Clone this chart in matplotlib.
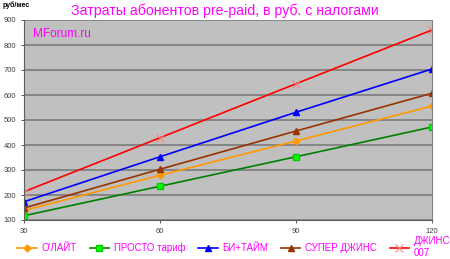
import matplotlib
matplotlib.use("Agg")
import matplotlib.pyplot as plt

minutes = [30, 60, 90, 120]
olait = [138, 279, 416, 556]
prosto = [117, 235, 353, 472]
bi_time = [173, 353, 531, 704]
super_jeans = [148, 303, 456, 607]
jeans007 = [213, 429, 645, 860]

names = ["О'ЛАЙТ", "ПРОСТО тариф", "БИ+ТАЙМ", "СУПЕР ДЖИНС", "ДЖИНС\n007"]
y_ticks = [100, 200, 300, 400, 500, 600, 700, 800, 900]

plt.rcParams["font.family"] = ["Liberation Sans", "DejaVu Sans"]

fig = plt.figure(figsize=(4.5, 2.59), dpi=100)
ax = fig.add_axes([24 / 450, 1 - 220 / 259, 408 / 450, 200 / 259])
ax.set_facecolor("#c0c0c0")

ax.plot(minutes, olait, color="#ff9900", marker="D", ms=3.5, lw=1.2, label=names[0])
ax.plot(minutes, prosto, color="#008000", marker="s", ms=4.5, mfc="#00ff00",
        mec="#00cc00", lw=1.2, label=names[1])
ax.plot(minutes, bi_time, color="#0000ff", marker="^", ms=4.5, lw=1.2, label=names[2])
ax.plot(minutes, super_jeans, color="#993300", marker="^", ms=4.5, lw=1.2, label=names[3])
ax.plot(minutes, jeans007, color="#ff0000", marker="x", ms=6, mec="#ff8080",
        mew=0.8, lw=1.2, label=names[4])

ax.set_xlim(30, 120)
ax.set_ylim(100, 900)
ax.set_xticks(minutes)
ax.set_yticks(y_ticks)
ax.grid(axis="y", color="#808080", lw=1.3)
ax.set_axisbelow(True)
ax.tick_params(labelsize=5.5, colors="#404040", length=2, width=0.6)
ax.spines["top"].set_visible(False)
for s in ["left", "bottom"]:
    ax.spines[s].set_color("#606060")
ax.spines["right"].set_color("#808080")

fig.text(0.5, 1 - 11 / 259, "Затраты абонентов pre-paid, в руб. с налогами",
         color="#ff00ff", fontsize=10.2, ha="center", va="center")
fig.text(3 / 450, 1 - 5 / 259, "руб/мес", fontsize=5, fontweight="bold",
         ha="left", va="center")
ax.text(9 / 408, 1 - 14 / 200, "MForum.ru", color="#ff00ff", fontsize=8.5,
        va="center", transform=ax.transAxes)

fig.legend(loc="center", bbox_to_anchor=(0.52, 1 - 247 / 259), ncol=5,
           frameon=False, fontsize=7, labelcolor="#ff00ff",
           handlelength=2.0, columnspacing=1.3, handletextpad=0.5)

fig.savefig("out.png", dpi=100)
